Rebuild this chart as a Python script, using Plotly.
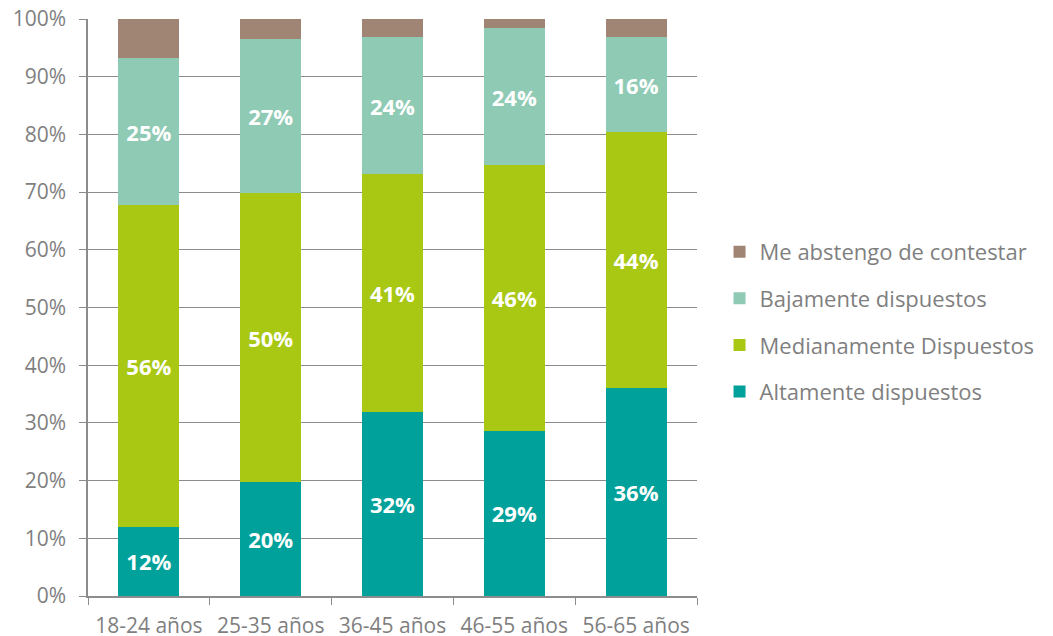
import plotly.graph_objects as go

categories = ["18-24 años", "25-35 años", "36-45 años", "46-55 años", "56-65 años"]
altamente = [12.0, 19.8, 31.9, 28.6, 36.0]
medianamente = [55.8, 50.0, 41.2, 46.1, 44.4]
bajamente = [25.4, 26.7, 23.7, 23.7, 16.4]
abstengo = [6.8, 3.5, 3.2, 1.6, 3.2]

series = [
    ("Altamente dispuestos", altamente, "#00A19A", True, 4),
    ("Medianamente Dispuestos", medianamente, "#A8C813", True, 3),
    ("Bajamente dispuestos", bajamente, "#8FCAB5", True, 2),
    ("Me abstengo de contestar", abstengo, "#A08474", False, 1),
]

FONT = "Open Sans"
GRAY = "#7F7F7F"
fig = go.Figure()
for name, vals, color, show, rank in series:
    fig.add_trace(go.Bar(
        x=categories, y=vals, name=name, marker_color=color,
        marker_line_width=0, legendgroup=name, legendrank=rank,
        text=[f"{round(v)}%" for v in vals] if show else None,
        textposition="inside" if show else "none",
        insidetextanchor="middle",
        textfont=dict(color="white", size=22, family=FONT, weight="bold"),
        hoverinfo="skip",
    ))

# page body has an 8px margin, so the figure is sized/offset to compensate
fig.update_layout(
    barmode="stack",
    bargap=0.5,
    width=1045, height=628,
    margin=dict(l=80, r=356, t=11, b=40, autoexpand=False),
    plot_bgcolor="white", paper_bgcolor="white",
    font=dict(family=FONT, color=GRAY, size=21),
    uniformtext=dict(mode="show", minsize=10),
    legend=dict(
        traceorder="grouped", x=1.037, xanchor="left", y=0.475, yanchor="middle",
        font=dict(size=22, color=GRAY, family=FONT),
        itemwidth=30, tracegroupgap=15,
    ),
    showlegend=True,
)
fig.update_yaxes(
    range=[0, 100], dtick=10, ticksuffix="%",
    showgrid=True, gridcolor="#8C8C8C", gridwidth=1,
    showline=True, linecolor="#8C8C8C", linewidth=1.5,
    ticks="outside", ticklen=7, tickcolor="#8C8C8C",
    tickfont=dict(size=21, color=GRAY), ticklabelstandoff=9,
    ticklabeloverflow="allow",
    zeroline=False, automargin=False,
)
fig.update_xaxes(
    showline=True, linecolor="#8C8C8C", linewidth=1.5,
    ticks="outside", ticklen=7, tickcolor="#8C8C8C", tickson="boundaries",
    tickfont=dict(size=21, color=GRAY), ticklabelstandoff=10,
    ticklabeloverflow="allow",
    automargin=False,
)

fig.write_html("out.html")
